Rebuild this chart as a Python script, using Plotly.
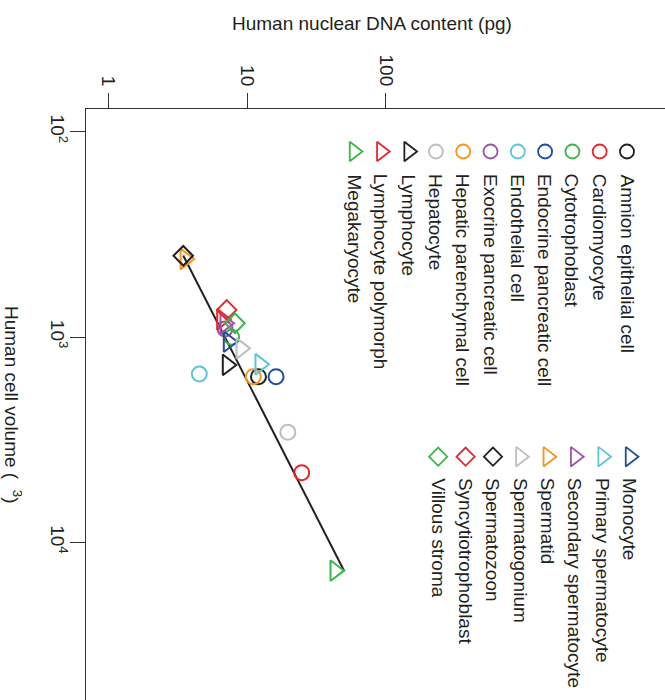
import plotly.graph_objects as go

# ---------------- data ----------------
cell_types = [
    "Amnion epithelial cell", "Cardiomyocyte", "Cytotrophoblast",
    "Endocrine pancreatic cell", "Endothelial cell", "Exocrine pancreatic cell",
    "Hepatic parenchymal cell", "Hepatocyte",
    "Lymphocyte", "Lymphocyte polymorph", "Megakaryocyte", "Monocyte",
    "Primary spermatocyte", "Secondary spermatocyte", "Spermatid", "Spermatogonium",
    "Spermatozoon", "Syncytiotrophoblast", "Villous stroma",
]
dna_pg = [12.1, 24.8, 7.75, 16.2, 4.53, 6.94, 11.1, 19.7,
          7.21, 6.57, 43.1, 7.33, 12.4, 6.94, 3.58, 9.06,
          3.47, 7.14, 8.19]
volume_um3 = [1560, 4580, 1003, 1560, 1514, 914, 1560, 2910,
              1368, 820, 13740, 1054, 1358, 857, 417, 1136,
              402, 738, 857]
shapes = (["circle-open"] * 8 + ["triangle-right-open"] * 8 + ["diamond-open"] * 3)
palette = ["#231F20", "#E8262A", "#3CB54A", "#1F4E9E",
           "#5BC5DA", "#9B55A3", "#F7941D", "#BCBEC0"]
colors = [palette[i % 8] for i in range(8)] * 2 + palette[:3]

fit_dna = [3.47, 50.3]
fit_volume = [401, 13840]

x_ticks = [1, 10, 100]
x_ticktext = ["1", "10", "100"]
y_ticks = [100, 1000, 10000]
y_ticktext = ["10<sup>2</sup>", "10<sup>3</sup>", "10<sup>4</sup>"]

x_title = "Human nuclear DNA content (pg)"
y_title = "Human cell volume (\u00a0\u00a0<sup>3</sup>)"

# ---------------- figure ----------------
W, H = 665, 700
L, T = 86, 109
FONT = "Liberation Sans, Arial, Helvetica, sans-serif"
TXT = "#231F20"

size_map = {"circle-open": 15, "triangle-right-open": 18, "diamond-open": 15}

fig = go.Figure()

fig.add_trace(go.Scatter(
    x=fit_dna, y=fit_volume, mode="lines",
    line=dict(color="#231F20", width=2), showlegend=False, hoverinfo="skip",
))

for name, xv, yv, sh, c in zip(cell_types, dna_pg, volume_um3, shapes, colors):
    fig.add_trace(go.Scatter(
        x=[xv], y=[yv], mode="markers", name=name, showlegend=False,
        marker=dict(symbol=sh, size=size_map[sh], color=c,
                    line=dict(color=c, width=2)),
    ))


def px2paper(px, py):
    return (px - L) / (W - L), (H - py) / (H - T)


# legend (rotated) drawn on a pixel overlay axis
annotations = []
n_first = 11
for i, (name, sh, c) in enumerate(zip(cell_types, shapes, colors)):
    if i < n_first:
        px = 627 - 27.3 * i
        py = 151.5
        ty = 172
    else:
        px = 630 - 27.4 * (i - n_first)
        py = 456.7
        ty = 476
    fig.add_trace(go.Scatter(
        x=[px], y=[py], xaxis="x2", yaxis="y2", mode="markers",
        showlegend=False, hoverinfo="skip", cliponaxis=False,
        marker=dict(symbol=sh, size=size_map[sh] - 1, color=c,
                    line=dict(color=c, width=1.8)),
    ))
    annotations.append(dict(
        x=px, y=ty, xref="x2", yref="y2", text=name, showarrow=False,
        textangle=90, xanchor="center", yanchor="top",
        font=dict(family=FONT, size=19, color=TXT),
    ))

tx, ty = px2paper(372, 23)
annotations.append(dict(
    x=tx, y=ty, xref="paper", yref="paper", text=x_title, showarrow=False,
    xanchor="center", yanchor="middle",
    font=dict(family=FONT, size=19, color=TXT),
))
tx, ty = px2paper(13, 404)
annotations.append(dict(
    x=tx, y=ty, xref="paper", yref="paper", text=y_title, showarrow=False,
    textangle=90, xanchor="center", yanchor="middle",
    font=dict(family=FONT, size=19, color=TXT),
))

xr0 = (L - 108.3) / 138.7
xr1 = (W - 108.3) / 138.7
yr_top = 2 - (131.7 - T) / 205.3
yr_bot = 2 + (H - 131.7) / 205.3

fig.update_layout(
    width=W, height=H,
    margin=dict(l=L, r=0, t=T, b=0, pad=0),
    paper_bgcolor="white", plot_bgcolor="white",
    font=dict(family=FONT, size=19, color=TXT),
    showlegend=False,
    xaxis=dict(
        type="log", side="top", range=[xr0, xr1],
        tickvals=x_ticks, ticktext=x_ticktext, tickangle=90,
        ticks="outside", ticklen=15, tickwidth=1.2, tickcolor="#333333",
        showline=True, linecolor="#333333", linewidth=1.2,
        showgrid=False, zeroline=False,
        tickfont=dict(family=FONT, size=19, color=TXT),
    ),
    yaxis=dict(
        type="log", range=[yr_bot, yr_top],
        tickvals=y_ticks, ticktext=y_ticktext, tickangle=90,
        ticks="outside", ticklen=15, tickwidth=1.2, tickcolor="#333333",
        showline=True, linecolor="#333333", linewidth=1.2,
        showgrid=False, zeroline=False, ticklabelstandoff=-4,
        tickfont=dict(family=FONT, size=19, color=TXT),
    ),
    xaxis2=dict(overlaying="x", range=[L, W], visible=False, fixedrange=True),
    yaxis2=dict(overlaying="y", range=[H, T], visible=False, fixedrange=True),
    annotations=annotations,
)

fig.write_html(
    "out.html",
    config={"displayModeBar": False},
    post_script="document.body.style.margin='0';document.body.style.overflow='hidden';",
)
